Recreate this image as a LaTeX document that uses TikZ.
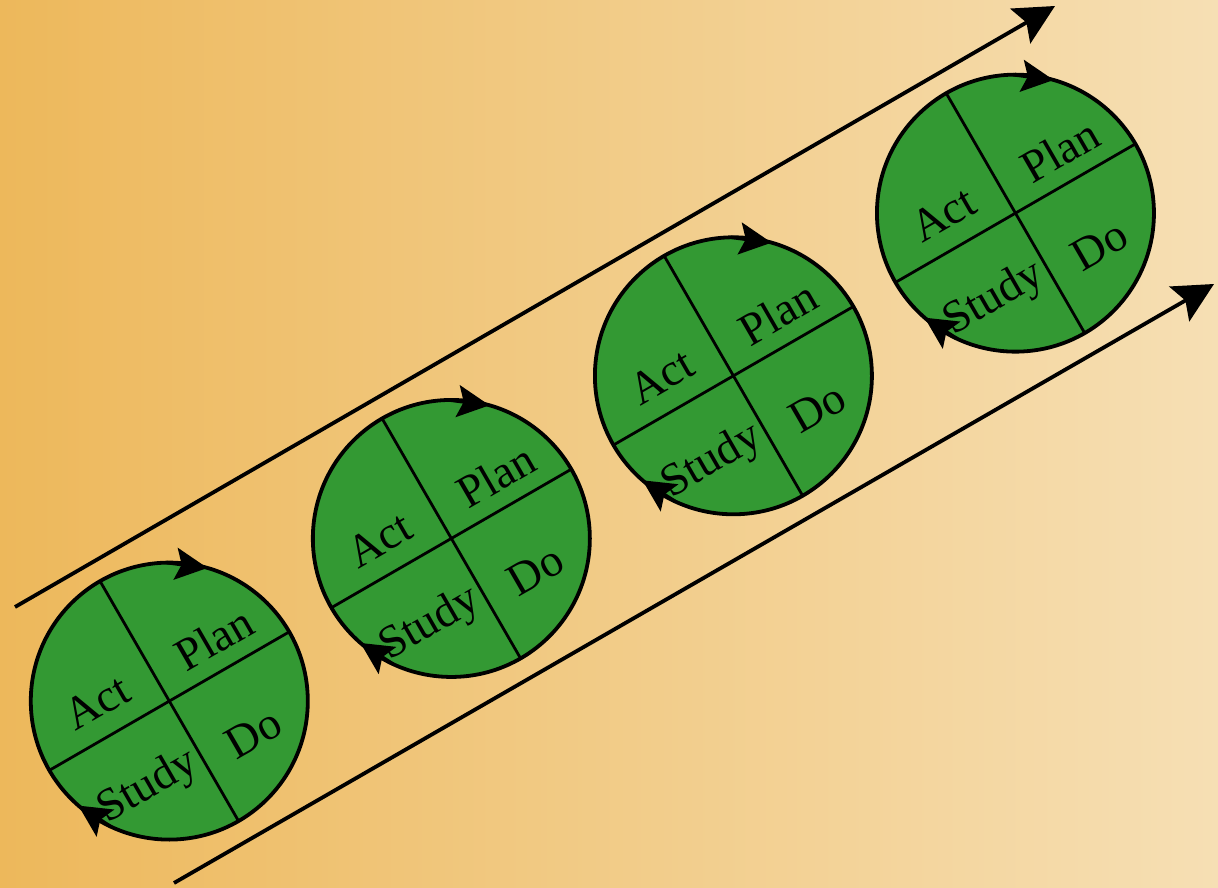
\documentclass[tikz,border=0pt]{standalone}
\usepackage{fontspec}
\setmainfont{Liberation Serif}
\usetikzlibrary{arrows.meta}
\definecolor{bgleft}{HTML}{EDB85B}
\definecolor{bgright}{HTML}{F6DFB4}
\definecolor{pdsagreen}{HTML}{339933}
\tikzset{
  wheel/.style={circle, draw=black, line width=3.8pt, fill=pdsagreen,
    minimum size=277pt, inner sep=0pt, outer sep=0pt},
  divider/.style={line width=2.8pt},
  quadlabel/.style={font=\fontsize{46}{50}\selectfont, rotate=30, inner sep=0pt},
  turn/.style={-{Stealth[length=32pt, width=32pt, inset=6pt]}, line width=3.5pt},
  flow/.style={-{Stealth[length=40pt, width=40pt, inset=7pt]}, line width=3.8pt},
}
\begin{document}
\begin{tikzpicture}[x=1pt, y=1pt]
  % background
  \shade[left color=bgleft, right color=bgright] (0,0) rectangle (1218,887);
  \useasboundingbox (0,0) rectangle (1218,887);
  % the two long arrows
  \coordinate (upA) at (15,280);
  \coordinate (upB) at (1055,881);
  \coordinate (loA) at (174,4);
  \coordinate (loB) at (1214,603);
  \draw[flow] (upA) -- (upB);
  \draw[flow] (loA) -- (loB);
  % the four PDSA wheels
  \foreach \i/\x/\y in {1/169.3/185.9, 2/451.35/348.55, 3/733.4/511.2, 4/1015.45/673.85} {
    \node[wheel] (c\i) at (\x,\y) {};
    \draw[divider] (c\i.30) -- (c\i.210);
    \draw[divider] (c\i.120) -- (c\i.300);
    \draw[turn] (c\i.91) -- (c\i.74);
    \draw[turn] (c\i.245) -- (c\i.229);
    \begin{scope}[shift={(c\i)}, rotate=30]
      \node[quadlabel] (plan\i)  at (70,32)   {Plan};
      \node[quadlabel] (act\i)   at (-63,35)  {Act};
      \node[quadlabel] (do\i)    at (57,-70)  {Do};
      \node[quadlabel] (study\i) at (-61,-64) {Study};
    \end{scope}
  }
\end{tikzpicture}
\end{document}
